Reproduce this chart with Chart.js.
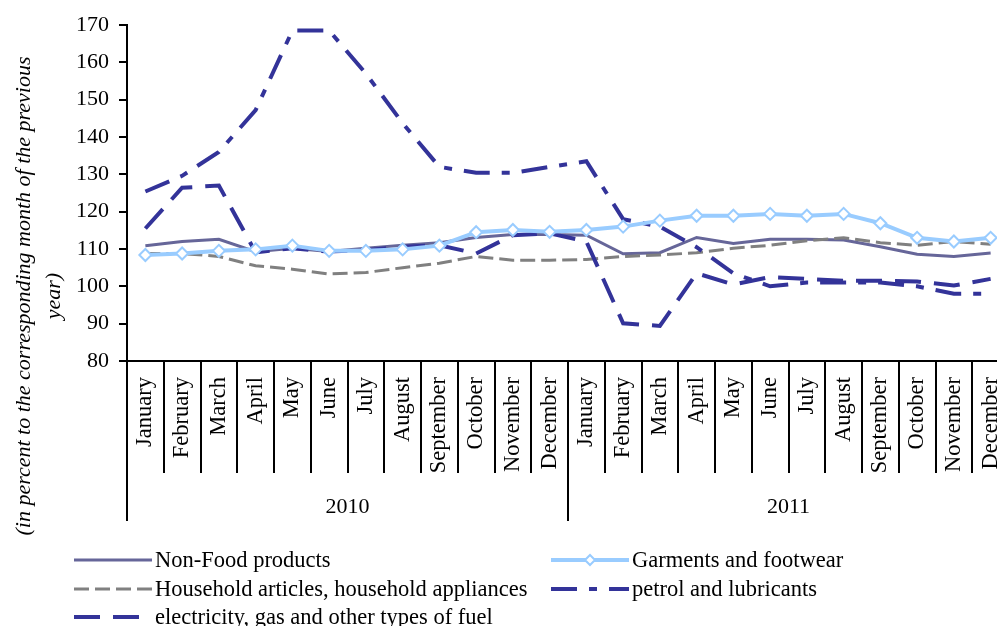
<!DOCTYPE html>
<html>
<head>
<meta charset="utf-8">
<script src="https://cdn.jsdelivr.net/npm/chart.js@4"></script>
<style>
  html, body { margin: 0; padding: 0; background: #fff; }
  body { width: 997px; height: 626px; overflow: hidden; position: relative; font-family: "Liberation Serif", "Times New Roman", serif; }
  #c { position: absolute; left: 0; top: 0; }
  #ytitle {
    position: absolute; left: -242px; top: 266px; width: 560px; height: 60px;
    line-height: 30px; text-align: center; font-style: italic; font-size: 22px;
    transform: rotate(-90deg); transform-origin: 50% 50%; white-space: nowrap;
  }
  .leg { position: absolute; display: flex; align-items: center; font-size: 22.5px; white-space: nowrap; height: 28px; }
  .leg svg { display: block; margin-right: 3px; }
</style>
</head>
<body>
<canvas id="c" width="1020" height="626"></canvas>
<div id="ytitle">(in percent to the corresponding month of the previous<br>year)</div>
<div id="legend"></div>
<script>
const months = ['January', 'February', 'March', 'April', 'May', 'June', 'July',
  'August', 'September', 'October', 'November', 'December'];
const years = ['2010', '2011'];

// индексы в % к соответствующему месяцу прошлого года
const nonFood = [110.9, 112.0, 112.6, 109.3, 110.2, 109.3, 110.2, 111.0, 111.7, 113.1, 113.9, 113.9,
  113.7, 108.7, 109.0, 113.1, 111.5, 112.6, 112.6, 112.4, 110.6, 108.6, 108.0, 108.9];
const garments = [108.4, 108.8, 109.5, 109.9, 110.9, 109.5, 109.5, 109.9, 110.9, 114.5, 115.1, 114.6,
  115.1, 116.0, 117.6, 118.9, 118.9, 119.4, 118.9, 119.4, 116.9, 113.0, 112.0, 113.0];
const household = [108.8, 108.8, 108.0, 105.5, 104.6, 103.3, 103.7, 105.0, 106.2, 108.0, 107.0, 107.0,
  107.2, 108.0, 108.4, 109.0, 110.2, 111.0, 112.2, 113.0, 111.7, 111.0, 112.0, 111.3];
const petrol = [125.4, 129.6, 136.0, 147.2, 168.5, 168.5, 157.0, 143.7, 132.0, 130.4, 130.4, 132.0,
  133.5, 118.0, 116.0, 110.5, 103.5, 100.0, 101.0, 101.0, 101.0, 100.0, 98.0, 98.0];
const electricity = [115.5, 126.4, 127.0, 109.1, 110.2, 109.3, 109.7, 110.6, 111.0, 108.8, 113.7, 114.2,
  112.0, 90.1, 89.4, 103.5, 100.5, 102.5, 102.0, 101.5, 101.5, 101.3, 100.2, 102.0];

const yMin = 80, yMax = 170, yStep = 10;

const labels = years.flatMap(() => months);
const FAMILY = '"Liberation Serif", "Times New Roman", serif';
const FONT = { family: FAMILY, size: 22 };
const FONT_X = { family: FAMILY, size: 22.5 };

const series = [
  { label: 'Non-Food products', data: nonFood, color: '#666699', width: 3, dash: [], order: 4 },
  { label: 'Garments and footwear', data: garments, color: '#99CCFF', width: 4, dash: [], order: 0, marker: true },
  { label: 'Household articles, household appliances', data: household, color: '#808080', width: 3, dash: [15, 6], order: 3 },
  { label: 'petrol and lubricants', data: petrol, color: '#333399', width: 4, dash: [26, 12, 8, 12], order: 2 },
  { label: 'electricity, gas and other types of fuel', data: electricity, color: '#333399', width: 4, dash: [26, 13], order: 1 }
];

// подписи годов и длинные разделители под месяцами
const yearGroups = {
  id: 'yearGroups',
  afterDraw(chart) {
    const x = chart.scales.x;
    const top = chart.chartArea.bottom + 112;
    const bottom = chart.chartArea.bottom + 160;
    const ctx = chart.ctx;
    ctx.save();
    ctx.strokeStyle = '#000';
    ctx.lineWidth = 2;
    for (let g = 0; g <= years.length; g++) {
      const px = x.getPixelForValue(g * months.length - 0.5);
      ctx.beginPath();
      ctx.moveTo(px, top);
      ctx.lineTo(px, bottom);
      ctx.stroke();
    }
    ctx.fillStyle = '#000';
    ctx.font = FONT.size + 'px ' + FONT.family;
    ctx.textAlign = 'center';
    ctx.textBaseline = 'middle';
    years.forEach((y, g) => {
      const px = x.getPixelForValue(g * months.length + (months.length - 1) / 2);
      ctx.fillText(y, px, chart.chartArea.bottom + 146);
    });
    ctx.restore();
  }
};

new Chart(document.getElementById('c'), {
  type: 'line',
  data: {
    labels: labels,
    datasets: series.map(s => ({
      label: s.label,
      data: s.data,
      borderColor: s.color,
      backgroundColor: s.marker ? '#fff' : s.color,
      borderWidth: s.width,
      borderDash: s.dash,
      order: s.order,
      tension: 0,
      fill: false,
      pointStyle: s.marker ? 'rectRot' : 'circle',
      pointRadius: s.marker ? 6 : 0,
      pointBorderWidth: 2,
      pointBorderColor: s.color,
      pointBackgroundColor: '#fff'
    }))
  },
  options: {
    responsive: false,
    animation: false,
    layout: { padding: { left: 77, right: 11, top: 25, bottom: 105 } },
    plugins: { legend: { display: false }, tooltip: { enabled: false } },
    scales: {
      x: {
        offset: true,
        grid: { offset: true, drawOnChartArea: false, tickLength: 112, color: '#000', lineWidth: 2 },
        border: { color: '#000', width: 2 },
        ticks: { minRotation: 90, maxRotation: 90, autoSkip: false, padding: -96, font: FONT_X, color: '#000' },
        afterFit: s => { s.height = 160; }
      },
      y: {
        min: yMin,
        max: yMax,
        grid: { drawOnChartArea: false, tickLength: 8, color: '#000', lineWidth: 2 },
        border: { color: '#000', width: 2 },
        ticks: { stepSize: yStep, font: FONT, color: '#000', padding: 10 },
        afterFit: s => { s.width = 50; }
      }
    }
  },
  plugins: [yearGroups]
});

// легенда: 2 колонки
const legendPos = [
  { left: 74, top: 546 }, { left: 551, top: 546 },
  { left: 74, top: 575 }, { left: 551, top: 575 },
  { left: 74, top: 603 }
];
const legendBox = document.getElementById('legend');
series.forEach((s, i) => {
  const el = document.createElement('div');
  el.className = 'leg';
  el.style.left = legendPos[i].left + 'px';
  el.style.top = legendPos[i].top + 'px';
  const w = 78;
  let svg = '<svg width="' + w + '" height="14">' +
    '<line x1="0" y1="7" x2="' + w + '" y2="7" stroke="' + s.color + '" stroke-width="' + s.width + '"' +
    (s.dash.length ? ' stroke-dasharray="' + s.dash.join(',') + '"' : '') + '/>';
  if (s.marker) {
    const c = w / 2;
    svg += '<polygon points="' + (c - 5) + ',7 ' + c + ',2 ' + (c + 5) + ',7 ' + c + ',12" fill="#fff" stroke="' + s.color + '" stroke-width="2"/>';
  }
  svg += '</svg>';
  el.innerHTML = svg + '<span>' + s.label + '</span>';
  legendBox.appendChild(el);
});
</script>
</body>
</html>
